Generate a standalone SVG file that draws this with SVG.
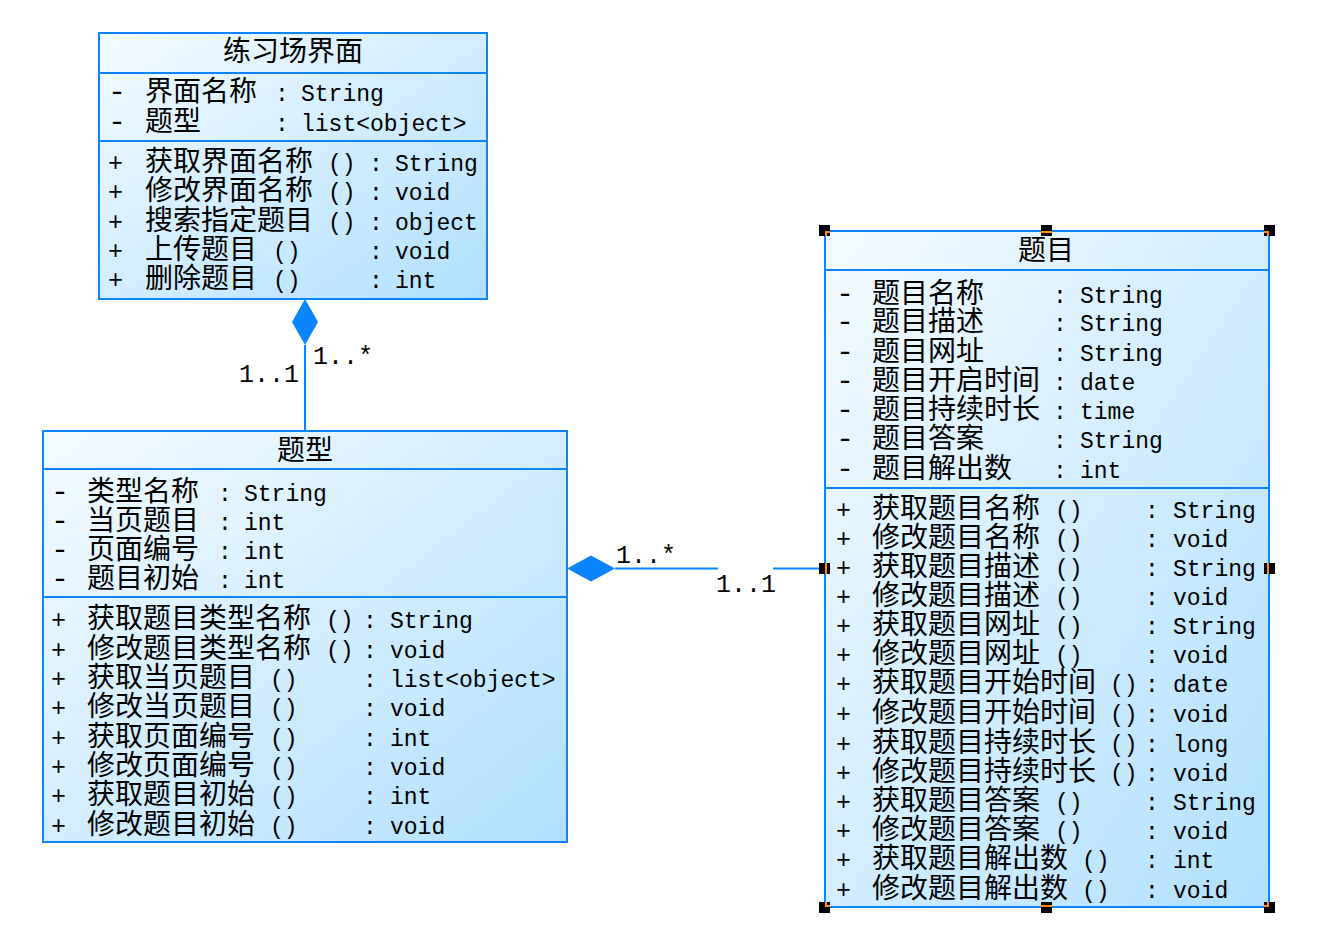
<svg xmlns="http://www.w3.org/2000/svg" width="1319" height="933" viewBox="0 0 1319 933">
<style>
.box{fill:url(#g);stroke:#0A84FF;stroke-width:2}
.sep{stroke:#0A84FF;stroke-width:2;fill:none}
.conn{stroke:#0A84FF;stroke-width:2;fill:none}
.dia{fill:#0A84FF;stroke:none}
text{fill:#000}
.c{font-family:"Noto Sans CJK SC","Noto Sans CJK JP",sans-serif;font-size:28px}
.t{font-family:"Noto Sans CJK SC","Noto Sans CJK JP",sans-serif;font-size:28px;text-anchor:middle}
.m{font-family:"Liberation Mono","DejaVu Sans Mono",monospace;font-size:23px}
.d{font-family:"Liberation Mono","DejaVu Sans Mono",monospace;font-size:30px}
.p{font-family:"Liberation Mono","DejaVu Sans Mono",monospace;font-size:25px}
.lbl{font-family:"Liberation Mono","DejaVu Sans Mono",monospace;font-size:25px}
.h{fill:#000}
.o{stroke:#FF8C00;stroke-width:2;fill:none}
</style>
<defs>
<linearGradient id="g" x1="0" y1="0" x2="1" y2="1">
<stop offset="0" stop-color="#F5FBFF"/>
<stop offset="1" stop-color="#B0E0FF"/>
</linearGradient>
</defs>

<g id="connectors">
<path class="conn" d="M305 345 V431"/>
<path class="dia" d="M305 299 L318 322 L305 345 L292 322 Z"/>
<path class="conn" d="M615 568.5 H718 M773 568.5 H824"/>
<path class="dia" d="M567 568.5 L591 555.5 L615 568.5 L591 581.5 Z"/>
<text class="lbl" x="239" y="382">1..1</text>
<text class="lbl" x="313" y="364">1..*</text>
<text class="lbl" x="616" y="563">1..*</text>
<text class="lbl" x="716" y="592">1..1</text>
</g>

<g id="class-practice">
<rect class="box" x="99" y="33" width="388" height="266"/>
<path class="sep" d="M99 73 H487 M99 141 H487"/>
<text class="t" x="293" y="61">练习场界面</text>
<text y="101"><tspan class="d" x="108">-</tspan><tspan class="c" x="145">界面名称</tspan><tspan class="m" x="275">:</tspan><tspan class="m" x="301">String</tspan></text>
<text y="131"><tspan class="d" x="108">-</tspan><tspan class="c" x="145">题型</tspan><tspan class="m" x="275">:</tspan><tspan class="m" x="301">list&lt;object&gt;</tspan></text>
<text y="171"><tspan class="p" x="108">+</tspan><tspan class="c" x="145">获取界面名称</tspan><tspan class="m" x="328">()</tspan><tspan class="m" x="369">:</tspan><tspan class="m" x="395">String</tspan></text>
<text y="200"><tspan class="p" x="108">+</tspan><tspan class="c" x="145">修改界面名称</tspan><tspan class="m" x="328">()</tspan><tspan class="m" x="369">:</tspan><tspan class="m" x="395">void</tspan></text>
<text y="230"><tspan class="p" x="108">+</tspan><tspan class="c" x="145">搜索指定题目</tspan><tspan class="m" x="328">()</tspan><tspan class="m" x="369">:</tspan><tspan class="m" x="395">object</tspan></text>
<text y="259"><tspan class="p" x="108">+</tspan><tspan class="c" x="145">上传题目</tspan><tspan class="m" x="273">()</tspan><tspan class="m" x="369">:</tspan><tspan class="m" x="395">void</tspan></text>
<text y="288"><tspan class="p" x="108">+</tspan><tspan class="c" x="145">删除题目</tspan><tspan class="m" x="273">()</tspan><tspan class="m" x="369">:</tspan><tspan class="m" x="395">int</tspan></text>
</g>

<g id="class-type">
<rect class="box" x="43" y="431" width="524" height="411"/>
<path class="sep" d="M43 469 H567 M43 597 H567"/>
<text class="t" x="305" y="460">题型</text>
<text y="501"><tspan class="d" x="51">-</tspan><tspan class="c" x="87">类型名称</tspan><tspan class="m" x="218">:</tspan><tspan class="m" x="244">String</tspan></text>
<text y="530"><tspan class="d" x="51">-</tspan><tspan class="c" x="87">当页题目</tspan><tspan class="m" x="218">:</tspan><tspan class="m" x="244">int</tspan></text>
<text y="559"><tspan class="d" x="51">-</tspan><tspan class="c" x="87">页面编号</tspan><tspan class="m" x="218">:</tspan><tspan class="m" x="244">int</tspan></text>
<text y="588"><tspan class="d" x="51">-</tspan><tspan class="c" x="87">题目初始</tspan><tspan class="m" x="218">:</tspan><tspan class="m" x="244">int</tspan></text>
<text y="628"><tspan class="p" x="51">+</tspan><tspan class="c" x="87">获取题目类型名称</tspan><tspan class="m" x="326">()</tspan><tspan class="m" x="363">:</tspan><tspan class="m" x="390">String</tspan></text>
<text y="658"><tspan class="p" x="51">+</tspan><tspan class="c" x="87">修改题目类型名称</tspan><tspan class="m" x="326">()</tspan><tspan class="m" x="363">:</tspan><tspan class="m" x="390">void</tspan></text>
<text y="687"><tspan class="p" x="51">+</tspan><tspan class="c" x="87">获取当页题目</tspan><tspan class="m" x="270">()</tspan><tspan class="m" x="363">:</tspan><tspan class="m" x="390">list&lt;object&gt;</tspan></text>
<text y="716"><tspan class="p" x="51">+</tspan><tspan class="c" x="87">修改当页题目</tspan><tspan class="m" x="270">()</tspan><tspan class="m" x="363">:</tspan><tspan class="m" x="390">void</tspan></text>
<text y="746"><tspan class="p" x="51">+</tspan><tspan class="c" x="87">获取页面编号</tspan><tspan class="m" x="270">()</tspan><tspan class="m" x="363">:</tspan><tspan class="m" x="390">int</tspan></text>
<text y="775"><tspan class="p" x="51">+</tspan><tspan class="c" x="87">修改页面编号</tspan><tspan class="m" x="270">()</tspan><tspan class="m" x="363">:</tspan><tspan class="m" x="390">void</tspan></text>
<text y="804"><tspan class="p" x="51">+</tspan><tspan class="c" x="87">获取题目初始</tspan><tspan class="m" x="270">()</tspan><tspan class="m" x="363">:</tspan><tspan class="m" x="390">int</tspan></text>
<text y="834"><tspan class="p" x="51">+</tspan><tspan class="c" x="87">修改题目初始</tspan><tspan class="m" x="270">()</tspan><tspan class="m" x="363">:</tspan><tspan class="m" x="390">void</tspan></text>
</g>

<g id="class-question">
<rect class="box" x="825" y="231" width="444" height="676"/>
<path class="sep" d="M825 270 H1269 M825 488 H1269"/>
<text class="t" x="1046" y="260">题目</text>
<text y="303"><tspan class="d" x="836">-</tspan><tspan class="c" x="872">题目名称</tspan><tspan class="m" x="1053">:</tspan><tspan class="m" x="1080">String</tspan></text>
<text y="331"><tspan class="d" x="836">-</tspan><tspan class="c" x="872">题目描述</tspan><tspan class="m" x="1053">:</tspan><tspan class="m" x="1080">String</tspan></text>
<text y="361"><tspan class="d" x="836">-</tspan><tspan class="c" x="872">题目网址</tspan><tspan class="m" x="1053">:</tspan><tspan class="m" x="1080">String</tspan></text>
<text y="390"><tspan class="d" x="836">-</tspan><tspan class="c" x="872">题目开启时间</tspan><tspan class="m" x="1053">:</tspan><tspan class="m" x="1080">date</tspan></text>
<text y="419"><tspan class="d" x="836">-</tspan><tspan class="c" x="872">题目持续时长</tspan><tspan class="m" x="1053">:</tspan><tspan class="m" x="1080">time</tspan></text>
<text y="448"><tspan class="d" x="836">-</tspan><tspan class="c" x="872">题目答案</tspan><tspan class="m" x="1053">:</tspan><tspan class="m" x="1080">String</tspan></text>
<text y="478"><tspan class="d" x="836">-</tspan><tspan class="c" x="872">题目解出数</tspan><tspan class="m" x="1053">:</tspan><tspan class="m" x="1080">int</tspan></text>
<text y="518"><tspan class="p" x="836">+</tspan><tspan class="c" x="872">获取题目名称</tspan><tspan class="m" x="1055">()</tspan><tspan class="m" x="1145">:</tspan><tspan class="m" x="1173">String</tspan></text>
<text y="547"><tspan class="p" x="836">+</tspan><tspan class="c" x="872">修改题目名称</tspan><tspan class="m" x="1055">()</tspan><tspan class="m" x="1145">:</tspan><tspan class="m" x="1173">void</tspan></text>
<text y="576"><tspan class="p" x="836">+</tspan><tspan class="c" x="872">获取题目描述</tspan><tspan class="m" x="1055">()</tspan><tspan class="m" x="1145">:</tspan><tspan class="m" x="1173">String</tspan></text>
<text y="605"><tspan class="p" x="836">+</tspan><tspan class="c" x="872">修改题目描述</tspan><tspan class="m" x="1055">()</tspan><tspan class="m" x="1145">:</tspan><tspan class="m" x="1173">void</tspan></text>
<text y="634"><tspan class="p" x="836">+</tspan><tspan class="c" x="872">获取题目网址</tspan><tspan class="m" x="1055">()</tspan><tspan class="m" x="1145">:</tspan><tspan class="m" x="1173">String</tspan></text>
<text y="663"><tspan class="p" x="836">+</tspan><tspan class="c" x="872">修改题目网址</tspan><tspan class="m" x="1055">()</tspan><tspan class="m" x="1145">:</tspan><tspan class="m" x="1173">void</tspan></text>
<text y="692"><tspan class="p" x="836">+</tspan><tspan class="c" x="872">获取题目开始时间</tspan><tspan class="m" x="1110">()</tspan><tspan class="m" x="1145">:</tspan><tspan class="m" x="1173">date</tspan></text>
<text y="722"><tspan class="p" x="836">+</tspan><tspan class="c" x="872">修改题目开始时间</tspan><tspan class="m" x="1110">()</tspan><tspan class="m" x="1145">:</tspan><tspan class="m" x="1173">void</tspan></text>
<text y="752"><tspan class="p" x="836">+</tspan><tspan class="c" x="872">获取题目持续时长</tspan><tspan class="m" x="1110">()</tspan><tspan class="m" x="1145">:</tspan><tspan class="m" x="1173">long</tspan></text>
<text y="781"><tspan class="p" x="836">+</tspan><tspan class="c" x="872">修改题目持续时长</tspan><tspan class="m" x="1110">()</tspan><tspan class="m" x="1145">:</tspan><tspan class="m" x="1173">void</tspan></text>
<text y="810"><tspan class="p" x="836">+</tspan><tspan class="c" x="872">获取题目答案</tspan><tspan class="m" x="1055">()</tspan><tspan class="m" x="1145">:</tspan><tspan class="m" x="1173">String</tspan></text>
<text y="839"><tspan class="p" x="836">+</tspan><tspan class="c" x="872">修改题目答案</tspan><tspan class="m" x="1055">()</tspan><tspan class="m" x="1145">:</tspan><tspan class="m" x="1173">void</tspan></text>
<text y="868"><tspan class="p" x="836">+</tspan><tspan class="c" x="872">获取题目解出数</tspan><tspan class="m" x="1082">()</tspan><tspan class="m" x="1145">:</tspan><tspan class="m" x="1173">int</tspan></text>
<text y="898"><tspan class="p" x="836">+</tspan><tspan class="c" x="872">修改题目解出数</tspan><tspan class="m" x="1082">()</tspan><tspan class="m" x="1145">:</tspan><tspan class="m" x="1173">void</tspan></text>
</g>

<g id="selection-handles">
<rect class="h" x="819" y="225" width="11" height="11"/>
<rect class="h" x="1041" y="225" width="11" height="11"/>
<rect class="h" x="1264" y="225" width="11" height="11"/>
<rect class="h" x="819" y="563" width="11" height="11"/>
<rect class="h" x="1264" y="563" width="11" height="11"/>
<rect class="h" x="819" y="902" width="11" height="11"/>
<rect class="h" x="1041" y="902" width="11" height="11"/>
<rect class="h" x="1264" y="902" width="11" height="11"/>
<path class="o" d="M826 236 V232 H830 M1041 232 H1052 M1264 232 H1268 V236 M826 563 V574 M1268 563 V574 M826 902 V906 H830 M1041 906 H1052 M1264 906 H1268 V902"/>
</g>
</svg>
